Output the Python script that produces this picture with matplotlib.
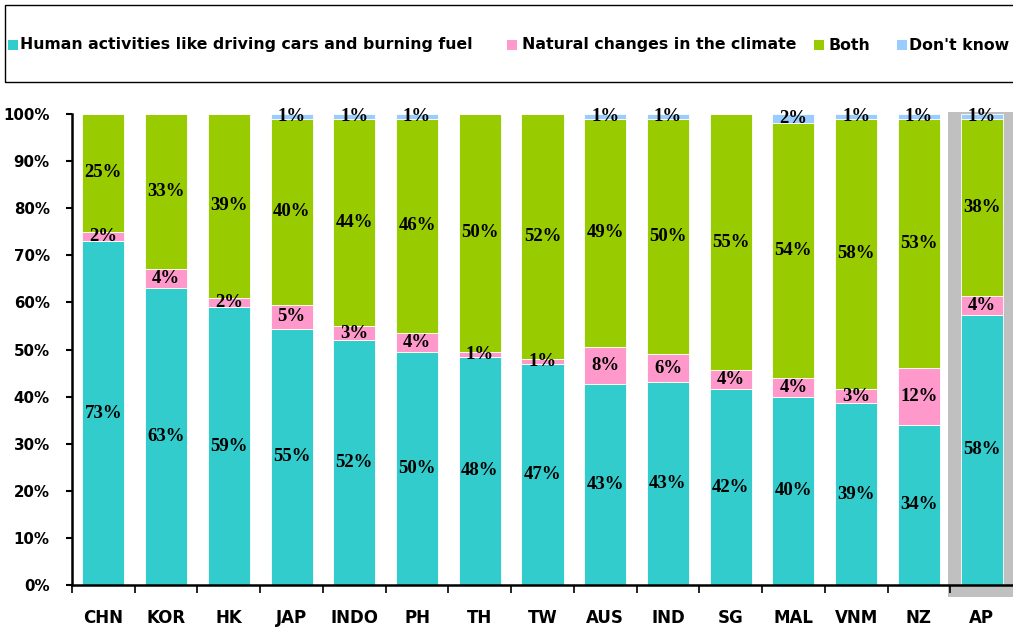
import matplotlib
matplotlib.use("Agg")
import matplotlib.pyplot as plt
from matplotlib.patches import Rectangle
import matplotlib.transforms as mtransforms
import numpy as np

categories = ["CHN", "KOR", "HK", "JAP", "INDO", "PH", "TH", "TW", "AUS", "IND", "SG", "MAL", "VNM", "NZ", "AP"]
human = [73, 63, 59, 55, 52, 50, 48, 47, 43, 43, 42, 40, 39, 34, 58]
natural = [2, 4, 2, 5, 3, 4, 1, 1, 8, 6, 4, 4, 3, 12, 4]
both = [25, 33, 39, 40, 44, 46, 50, 52, 49, 50, 55, 54, 58, 53, 38]
dont_know = [0, 0, 0, 1, 1, 1, 0, 0, 1, 1, 0, 2, 1, 1, 1]
series_names = ["Human activities like driving cars and burning fuel",
                "Natural changes in the climate", "Both", "Don't know"]
colors = ["#33CCCC", "#FF99CC", "#99CC00", "#99CCFF"]
ytick_vals = [0, 10, 20, 30, 40, 50, 60, 70, 80, 90, 100]

W, H = 1013, 628
fig = plt.figure(figsize=(W/100, H/100), dpi=100)
ax = fig.add_axes([72/W, 1-585/H, 1-72/W, (585-114)/H])

series = [np.array(s, dtype=float) for s in (human, natural, both, dont_know)]
totals = sum(series)
x = np.arange(len(categories))
bottom = np.zeros(len(categories))
label_font = dict(family="Liberation Serif", fontweight="bold", fontsize=13.5, color="black")
for vals, col in zip(series, colors):
    pct = vals / totals * 100
    ax.bar(x, pct, bottom=bottom, width=0.67, color=col, edgecolor="white", linewidth=0.6, zorder=3)
    for xi, v, p, b in zip(x, vals, pct, bottom):
        if v > 0:
            ax.text(xi, b + p/2, f"{int(v)}%", ha="center", va="center", zorder=5, **label_font)
    bottom = bottom + pct

# grey highlight behind AP
trans = mtransforms.blended_transform_factory(ax.transData, ax.transAxes)
ax.add_patch(Rectangle((13.46, -0.025), 1.2, 1.03, transform=trans, color="#C0C0C0",
                       zorder=1, clip_on=False, linewidth=0))

ax.set_xlim(-0.5, 14.5)
ax.set_ylim(0, 100)
ax.set_yticks(ytick_vals)
ax.set_yticklabels([f"{v}%" for v in ytick_vals], fontfamily="DejaVu Sans", fontweight="bold", fontsize=10.8)
ax.set_xticks(x)
ax.set_xticklabels(categories, fontfamily="DejaVu Sans", fontweight="bold", fontsize=12)
ax.set_xticks(np.arange(-0.5, 14, 1.0), minor=True)
ax.tick_params(axis="x", which="major", length=0, pad=17)
ax.tick_params(axis="x", which="minor", length=6, width=1.2, direction="out")
ax.tick_params(axis="y", which="major", length=4, width=1.5, direction="out", pad=12)
for s in ["top", "right"]:
    ax.spines[s].set_visible(False)
for s in ["left", "bottom"]:
    ax.spines[s].set_linewidth(1.8)
    ax.spines[s].set_zorder(6)

# legend box with manually placed entries
fig.patches.append(Rectangle((5/W, 1-82/H), 1.0, 77/H, transform=fig.transFigure,
                             fill=False, edgecolor="black", linewidth=1.0))
handle_x = [8, 507, 814, 897]
text_x = [20, 522, 828, 909]
ly = 45
for hx, tx, name, col in zip(handle_x, text_x, series_names, colors):
    fig.patches.append(Rectangle((hx/W, 1-(ly+5)/H), 10/W, 10/H, transform=fig.transFigure,
                                 facecolor=col, edgecolor="none"))
    fig.text(tx/W, 1-ly/H, name, ha="left", va="center", fontfamily="DejaVu Sans",
             fontweight="bold", fontsize=11.3)

fig.savefig("out.png", dpi=100)
